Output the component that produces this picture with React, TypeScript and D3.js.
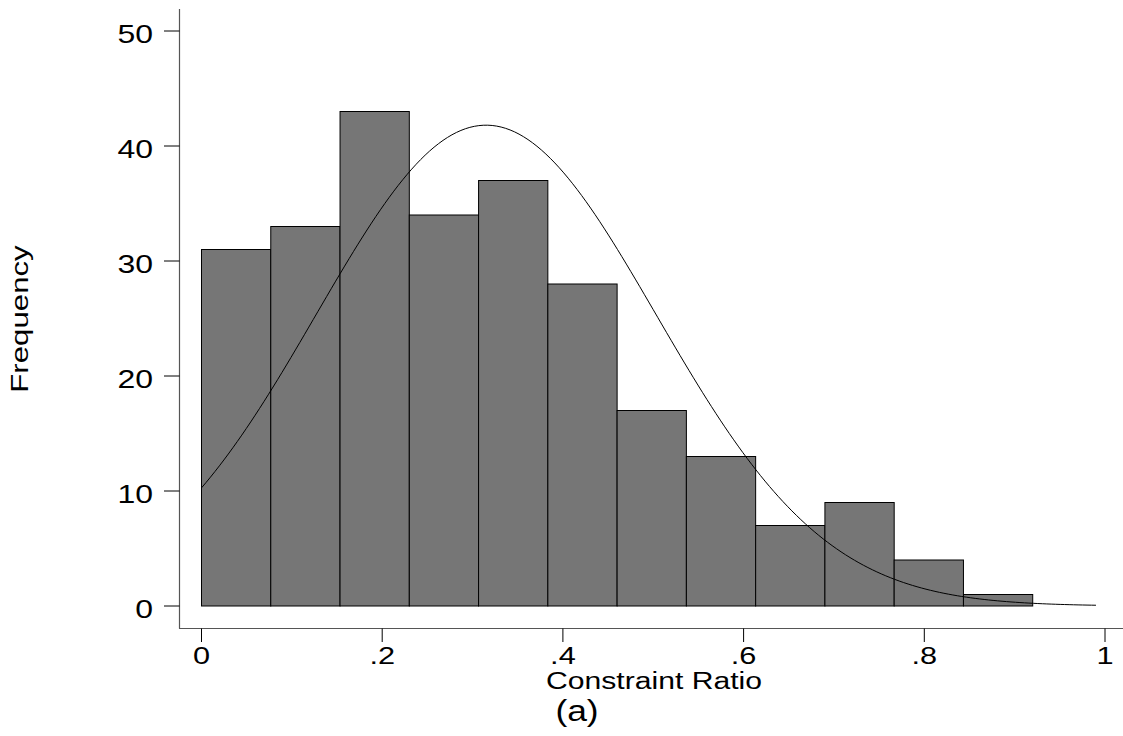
import React from "react";
import * as d3 from "d3";

const binStart = 0;
const binWidth = 0.92 / 12;
const counts = [31, 33, 43, 34, 37, 28, 17, 13, 7, 9, 4, 1];
const xTicks = [0, 0.2, 0.4, 0.6, 0.8, 1];
const xTickLabels = ["0", ".2", ".4", ".6", ".8", "1"];
const yTicks = [0, 10, 20, 30, 40, 50];
const fitMean = 0.315;
const fitSd = 0.188;
const fitRange = [0, 0.99];

export default function App() {
  const W = 1123, H = 736;
  const x = d3.scaleLinear().domain([0, 1]).range([201.5, 1105]);
  const y = d3.scaleLinear().domain([0, 50]).range([606, 31]);
  const total = d3.sum(counts);
  const normal = (v: number) =>
    (total * binWidth) / (fitSd * Math.sqrt(2 * Math.PI)) *
    Math.exp(-((v - fitMean) ** 2) / (2 * fitSd * fitSd));
  const curvePts = d3.range(0, 201).map((i) => {
    const v = fitRange[0] + ((fitRange[1] - fitRange[0]) * i) / 200;
    return [x(v), y(normal(v))] as [number, number];
  });
  const line = d3.line();
  const font = "Liberation Sans, Arial, sans-serif";
  const sx = 1.28;
  return (
    <svg width={W} height={H} style={{ position: "absolute", left: 0, top: 0, background: "#fff" }}>
      <rect x={0} y={0} width={W} height={H} fill="#fff" />
      {counts.map((c, i) => {
        const x0 = x(binStart + i * binWidth);
        const x1 = x(binStart + (i + 1) * binWidth);
        return (
          <rect key={i} x={x0} y={y(c)} width={x1 - x0} height={y(0) - y(c)}
            fill="#767676" stroke="#000" strokeWidth={1} />
        );
      })}
      <path d={line(curvePts) || ""} fill="none" stroke="#000" strokeWidth={1} />
      {/* y axis */}
      <line x1={179.5} x2={179.5} y1={9} y2={628.5} stroke="#555" strokeWidth={1.2} />
      {yTicks.map((t) => (
        <g key={t}>
          <line x1={164} x2={179.5} y1={y(t)} y2={y(t)} stroke="#000" strokeWidth={1} />
          <text transform={`translate(153,${y(t) + 12}) scale(${sx},1)`} textAnchor="end"
            fontFamily={font} fontSize={25}>{t}</text>
        </g>
      ))}
      {/* x axis */}
      <line x1={179} x2={1123} y1={628.5} y2={628.5} stroke="#555" strokeWidth={1.2} />
      {xTicks.map((t, i) => (
        <g key={t}>
          <line x1={x(t)} x2={x(t)} y1={628.5} y2={642} stroke="#000" strokeWidth={1} />
          <text transform={`translate(${x(t)},664) scale(${sx},1)`} textAnchor="middle"
            fontFamily={font} fontSize={24}>{xTickLabels[i]}</text>
        </g>
      ))}
      <text transform={`translate(654,689) scale(1.31,1)`} textAnchor="middle" fontFamily={font} fontSize={23}>Constraint Ratio</text>
      <text transform={`translate(577,721) scale(1.22,1)`} textAnchor="middle" fontFamily={font} fontSize={29}>(a)</text>
      <text transform="translate(28,319) rotate(-90) scale(1.3,1)" textAnchor="middle" fontFamily={font} fontSize={24}>Frequency</text>
    </svg>
  );
}
